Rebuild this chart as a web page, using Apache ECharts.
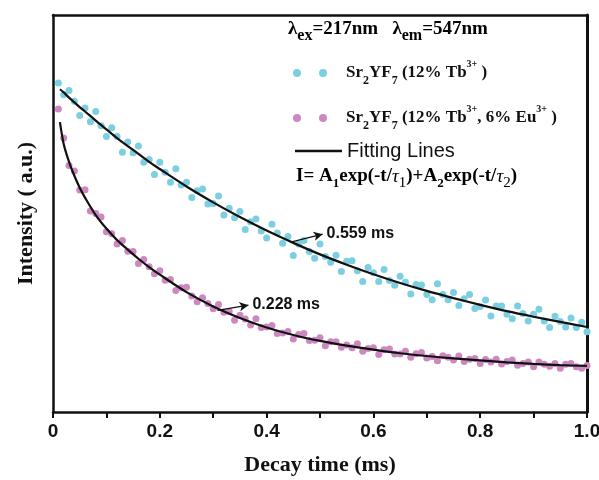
<!DOCTYPE html>
<html>
<head>
<meta charset="utf-8">
<title>Decay curves</title>
<script src="https://cdn.jsdelivr.net/npm/echarts@6/dist/echarts.min.js"></script>
<style>
  html, body { margin: 0; padding: 0; background: #fff; }
  #chart { width: 599px; height: 480px; }
</style>
</head>
<body>
<div id="chart"></div>
<script>
// ---- data (intensity in arbitrary units, 0 = bottom axis, 100 = top frame) ----
const decayTime = [
  0.01, 0.02, 0.03, 0.04, 0.05, 0.06, 0.07, 0.08, 0.09, 0.10,
  0.11, 0.12, 0.13, 0.14, 0.15, 0.16, 0.17, 0.18, 0.19, 0.20,
  0.21, 0.22, 0.23, 0.24, 0.25, 0.26, 0.27, 0.28, 0.29, 0.30,
  0.31, 0.32, 0.33, 0.34, 0.35, 0.36, 0.37, 0.38, 0.39, 0.40,
  0.41, 0.42, 0.43, 0.44, 0.45, 0.46, 0.47, 0.48, 0.49, 0.50,
  0.51, 0.52, 0.53, 0.54, 0.55, 0.56, 0.57, 0.58, 0.59, 0.60,
  0.61, 0.62, 0.63, 0.64, 0.65, 0.66, 0.67, 0.68, 0.69, 0.70,
  0.71, 0.72, 0.73, 0.74, 0.75, 0.76, 0.77, 0.78, 0.79, 0.80,
  0.81, 0.82, 0.83, 0.84, 0.85, 0.86, 0.87, 0.88, 0.89, 0.90,
  0.91, 0.92, 0.93, 0.94, 0.95, 0.96, 0.97, 0.98, 0.99, 1.00
]
// Sr2YF7 (12% Tb3+)
const tbIntensity = [
  82.9, 79.9, 81.0, 78.3, 74.7, 76.6, 73.1, 75.7, 72.1, 69.4,
  71.6, 69.4, 65.4, 68.0, 65.3, 67.0, 62.9, 63.6, 59.8, 62.9,
  60.4, 57.9, 61.3, 57.2, 57.9, 54.0, 55.7, 56.2, 52.4, 52.5,
  54.4, 49.6, 51.3, 48.9, 50.5, 46.0, 47.9, 48.6, 45.6, 43.8,
  47.3, 45.1, 42.5, 44.2, 39.4, 42.3, 43.2, 40.4, 38.7, 42.3,
  39.2, 37.7, 39.5, 35.4, 38.0, 38.1, 35.6, 32.9, 36.4, 35.1,
  32.9, 35.9, 33.1, 31.9, 34.2, 32.7, 29.7, 32.1, 32.0, 29.6,
  28.3, 32.3, 29.6, 28.3, 30.1, 26.8, 28.5, 29.6, 26.1, 26.6,
  28.2, 24.2, 26.7, 26.7, 24.6, 23.5, 26.7, 24.8, 22.9, 24.6,
  25.9, 22.9, 21.3, 24.1, 22.8, 21.4, 23.7, 21.3, 22.6, 20.2
]
// Sr2YF7 (12% Tb3+, 6% Eu3+)
const tbEuIntensity = [
  76.3, 69.0, 62.1, 60.7, 55.9, 56.0, 50.6, 50.0, 49.1, 45.4,
  44.9, 42.3, 43.2, 40.5, 40.4, 37.4, 38.4, 36.6, 34.8, 35.6,
  33.2, 33.4, 30.6, 31.3, 31.4, 29.2, 27.8, 28.8, 27.3, 26.0,
  27.1, 25.1, 25.3, 23.1, 24.4, 23.4, 21.9, 23.5, 21.3, 21.4,
  21.8, 19.8, 19.9, 20.3, 18.4, 19.5, 19.8, 18.0, 18.1, 18.7,
  16.7, 17.7, 17.7, 16.3, 16.9, 16.2, 17.2, 15.3, 16.0, 16.2,
  14.5, 15.7, 15.9, 14.6, 14.6, 15.3, 13.8, 14.7, 15.0, 13.6,
  14.0, 12.9, 14.2, 13.8, 13.1, 14.1, 12.7, 13.3, 13.5, 12.2,
  13.2, 12.6, 13.3, 12.1, 12.7, 13.1, 11.8, 12.2, 12.6, 11.4,
  12.6, 12.0, 11.5, 12.2, 11.0, 12.0, 12.2, 11.4, 11.0, 11.7
]
// fitting lines
const fitTime = [0.013, 0.02, 0.03, 0.04, 0.05, 0.06, 0.08, 0.10, 0.12, 0.14, 0.16, 0.18, 0.20,
  0.25, 0.30, 0.35, 0.40, 0.45, 0.50, 0.55, 0.60, 0.65, 0.70, 0.75, 0.80, 0.85, 0.90, 0.95, 1.00]
const tbFit = [81.3, 80.5, 79.2, 78.0, 76.8, 75.7, 73.4, 71.2, 69.0, 67.0, 65.0, 63.0, 61.2,
  56.8, 52.8, 49.1, 45.7, 42.6, 39.7, 37.1, 34.7, 32.5, 30.5, 28.7, 27.0, 25.4, 24.0, 22.7, 21.4]
const tbEuFit = [73.0, 67.5, 63.0, 59.5, 56.5, 54.0, 49.6, 46.2, 43.3, 40.9, 38.6, 36.5, 34.6,
  30.2, 26.6, 23.7, 21.3, 19.4, 17.9, 16.7, 15.7, 14.8, 14.1, 13.5, 13.0, 12.5, 12.1, 11.8, 11.6]
const xTickLabels = ['0', '0.2', '0.4', '0.6', '0.8', '1.0']
const lifetimes = ['0.559 ms', '0.228 ms']

const SERIF = '"Liberation Serif", "Times New Roman", serif'
const SANS = '"Liberation Sans", Arial, sans-serif'
const CYAN = '#7bcfe0'
const PINK = '#cd88c1'
const TB = 'Sr2YF7 (12% Tb3+)'
const TBEU = 'Sr2YF7 (12% Tb3+, 6% Eu3+)'
const FIT = 'Fitting Lines'

const pairs = (xs, ys) => xs.map((x, i) => [x, ys[i]])

// 上下标的富文本样式
const rich = {
  gap: { width: 14 },
  b: { fontFamily: SERIF, fontWeight: 'bold', fontSize: 17, lineHeight: 28, color: '#111' },
  sub: { fontFamily: SERIF, fontWeight: 'bold', fontSize: 12, lineHeight: 14, verticalAlign: 'bottom', color: '#111' },
  sup: { fontFamily: SERIF, fontWeight: 'bold', fontSize: 10, lineHeight: 12, verticalAlign: 'top', color: '#111' },
  // 顶部激发/发射波长 与 公式 用稍大的字号
  B: { fontFamily: SERIF, fontWeight: 'bold', fontSize: 19, lineHeight: 28, color: '#111' },
  lsub: { fontFamily: SERIF, fontWeight: 'bold', fontSize: 16, lineHeight: 16, verticalAlign: 'bottom', color: '#111' },
  asub: { fontFamily: SERIF, fontWeight: 'bold', fontSize: 13, lineHeight: 14, verticalAlign: 'bottom', color: '#111' },
  tau: { fontFamily: SERIF, fontStyle: 'italic', fontSize: 19, lineHeight: 28, color: '#111' },
  tsub: { fontFamily: SERIF, fontSize: 15, lineHeight: 15, verticalAlign: 'bottom', color: '#111' }
}
const legendText = {
  [TB]: '{gap|}{b|Sr}{sub|2}{b|YF}{sub|7}{b| (12% Tb}{sup|3+}{b| )}',
  [TBEU]: '{gap|}{b|Sr}{sub|2}{b|YF}{sub|7}{b| (12% Tb}{sup|3+}{b|, 6% Eu}{sup|3+}{b| )}'
}
const twoDots = 'path://M0,4a4,4 0 1,0 8,0a4,4 0 1,0 -8,0M26,4a4,4 0 1,0 8,0a4,4 0 1,0 -8,0'

const chart = echarts.init(document.getElementById('chart'))

const arrowLine = (from, to, text) => ({
  silent: true,
  symbol: ['none', 'arrow'],
  symbolSize: [7, 9],
  lineStyle: { color: '#111', width: 1.3, type: 'solid' },
  label: {
    show: true, position: 'end', distance: 4, formatter: text,
    fontFamily: SANS, fontWeight: 'bold', fontSize: 16, color: '#111'
  },
  data: [[{ coord: from }, { coord: to }]]
})

chart.setOption({
  animation: false,
  backgroundColor: '#fff',
  grid: { left: 53, right: 12, top: 15, bottom: 68, outerBoundsMode: 'none' },
  xAxis: [{
    type: 'value', min: 0, max: 1, interval: 0.1,
    name: 'Decay time (ms)', nameLocation: 'middle', nameGap: 42,
    nameTextStyle: { fontFamily: SERIF, fontWeight: 'bold', fontSize: 22, color: '#111' },
    axisLine: { lineStyle: { color: '#111', width: 2.5 } },
    axisTick: { length: 6, lineStyle: { color: '#111', width: 2 } },
    axisLabel: {
      margin: 10, fontFamily: SANS, fontWeight: 'bold', fontSize: 19, color: '#111',
      formatter: v => {
        const k = Math.round(v * 10)
        return k % 2 === 0 ? xTickLabels[k / 2] : ''
      }
    },
    splitLine: { show: false }
  }, {
    type: 'value', min: 0, max: 1, position: 'top',
    axisLine: { onZero: false, lineStyle: { color: '#111', width: 2.5 } },
    axisTick: { show: false }, axisLabel: { show: false }, splitLine: { show: false }
  }],
  yAxis: [{
    type: 'value', min: 0, max: 100,
    name: 'Intensity ( a.u.)', nameLocation: 'middle', nameGap: 16,
    nameTextStyle: { fontFamily: SERIF, fontWeight: 'bold', fontSize: 22, color: '#111' },
    axisLine: { show: true, lineStyle: { color: '#111', width: 2.5 } },
    axisTick: { show: false }, axisLabel: { show: false }, splitLine: { show: false }
  }, {
    type: 'value', min: 0, max: 100, position: 'right',
    axisLine: { show: true, onZero: false, lineStyle: { color: '#111', width: 3 } },
    axisTick: { show: false }, axisLabel: { show: false }, splitLine: { show: false }
  }],
  legend: [{
    left: 293, top: 59, padding: 0, itemWidth: 34, itemHeight: 8,
    data: [{ name: TB, icon: twoDots }],
    formatter: n => legendText[n], textStyle: { rich }
  }, {
    left: 293, top: 104, padding: 0, itemWidth: 34, itemHeight: 8,
    data: [{ name: TBEU, icon: twoDots }],
    formatter: n => legendText[n], textStyle: { rich }
  }, {
    left: 295, top: 140, padding: 0, itemWidth: 47, itemHeight: 2.5,
    data: [{ name: FIT, icon: 'rect' }],
    textStyle: { fontFamily: SANS, fontSize: 20, lineHeight: 22, color: '#111' }
  }],
  graphic: [{
    type: 'text', left: 288, top: 20,
    style: { text: '{B|λ}{lsub|ex}{B|=217nm   λ}{lsub|em}{B|=547nm}', rich }
  }, {
    type: 'text', left: 296, top: 167,
    style: { text: '{B|I= A}{asub|1}{B|exp(-t/}{tau|τ}{tsub|1}{B|)+A}{asub|2}{B|exp(-t/}{tau|τ}{tsub|2}{B|)}', rich }
  }],
  series: [{
    name: TB, type: 'scatter', symbolSize: 7,
    itemStyle: { color: CYAN, opacity: 1 },
    data: pairs(decayTime, tbIntensity)
  }, {
    name: TBEU, type: 'scatter', symbolSize: 7,
    itemStyle: { color: PINK, opacity: 1 },
    data: pairs(decayTime, tbEuIntensity)
  }, {
    name: FIT, type: 'line', symbol: 'none', smooth: 0.3, z: 5,
    lineStyle: { color: '#111', width: 2.2 }, itemStyle: { color: '#111' },
    data: pairs(fitTime, tbFit),
    markLine: arrowLine([0.445, 42.8], [0.505, 44.8], lifetimes[0])
  }, {
    name: FIT, type: 'line', symbol: 'none', smooth: 0.3, z: 5,
    lineStyle: { color: '#111', width: 2.2 }, itemStyle: { color: '#111' },
    data: pairs(fitTime, tbEuFit),
    markLine: arrowLine([0.308, 25.6], [0.366, 26.9], lifetimes[1])
  }]
})
</script>
</body>
</html>
